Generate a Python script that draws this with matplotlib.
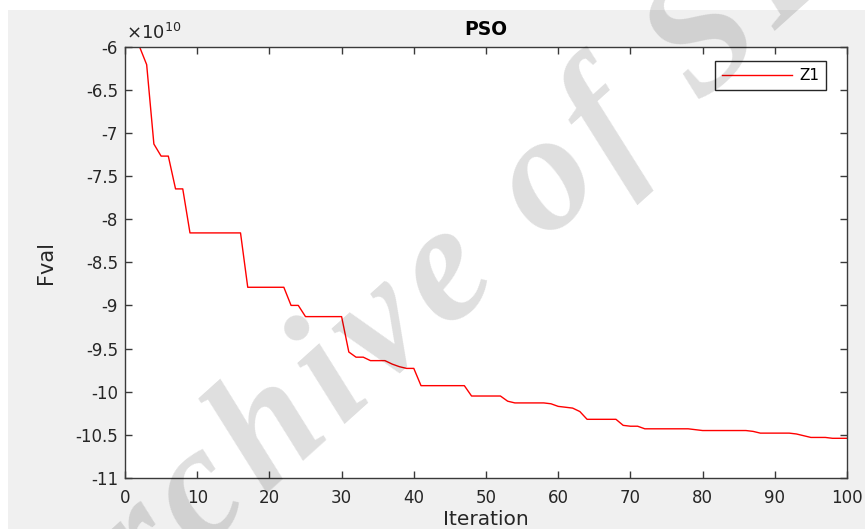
import numpy as np
import matplotlib.pyplot as plt
from matplotlib.patches import Rectangle
from matplotlib.ticker import FuncFormatter
from matplotlib.textpath import TextToPath
from matplotlib.font_manager import FontProperties

plt.rcParams['font.family'] = ['DejaVu Sans']
plt.rcParams['axes.unicode_minus'] = False

# best objective value per iteration, in units of 1e10
iteration = list(range(1, 101))
fval_e10 = [
    -6.00, -6.00, -6.21, -7.13, -7.27, -7.27, -7.65, -7.65, -8.16, -8.16,
    -8.16, -8.16, -8.16, -8.16, -8.16, -8.16, -8.79, -8.79, -8.79, -8.79,
    -8.79, -8.79, -9.00, -9.00, -9.13, -9.13, -9.13, -9.13, -9.13, -9.13,
    -9.54, -9.60, -9.60, -9.64, -9.64, -9.64, -9.68, -9.71, -9.73, -9.73,
    -9.93, -9.93, -9.93, -9.93, -9.93, -9.93, -9.93, -10.05, -10.05, -10.05,
    -10.05, -10.05, -10.11, -10.13, -10.13, -10.13, -10.13, -10.13, -10.14, -10.17,
    -10.18, -10.19, -10.23, -10.32, -10.32, -10.32, -10.32, -10.32, -10.39, -10.40,
    -10.40, -10.43, -10.43, -10.43, -10.43, -10.43, -10.43, -10.43, -10.44, -10.45,
    -10.45, -10.45, -10.45, -10.45, -10.45, -10.45, -10.46, -10.48, -10.48, -10.48,
    -10.48, -10.48, -10.49, -10.51, -10.53, -10.53, -10.53, -10.54, -10.54, -10.54,
]
x_ticks = list(range(0, 101, 10))
y_ticks = [-11 + 0.5 * i for i in range(11)]
watermark = 'Archive of SID'

W, H = 865, 529
fig = plt.figure(figsize=(W / 100, H / 100), dpi=100, facecolor='white')
fig.patches.append(Rectangle((8 / W, 0), 1, 1 - 10 / H, transform=fig.transFigure,
                             facecolor='#f0f0f0', edgecolor='none', zorder=-10))

ax = fig.add_axes([125 / W, 1 - 478 / H, 722 / W, 431.5 / H])
ax.plot(iteration, fval_e10, color='#ff0000', lw=1.0, label='Z1')

ax.set_xlim(0, 100)
ax.set_ylim(-11, -6)
ax.set_xticks(x_ticks)
ax.set_yticks(y_ticks)
ax.yaxis.set_major_formatter(FuncFormatter(lambda v, p: f'{v:g}'))

for s in ax.spines.values():
    s.set_color('#3a3a3a')
    s.set_linewidth(1.0)
ax.tick_params(direction='in', length=5, width=1.0, color='#3a3a3a', labelcolor='#262626',
               labelsize=12, top=True, right=True)
ax.tick_params(axis='x', pad=8)
ax.tick_params(axis='y', pad=5)

ax.set_xlabel('Iteration', fontsize=14.5, color='#262626', labelpad=2)
ax.set_ylabel('Fval', fontsize=15, color='#262626', labelpad=14)
ax.set_title('PSO', fontsize=13.5, fontweight='bold', pad=8)
ax.text(0.002, 1.008, r'$\times10^{10}$', transform=ax.transAxes, fontsize=13,
        color='#262626', ha='left', va='bottom')

leg = ax.legend(loc='upper right', handlelength=4.6, handletextpad=0.45, fancybox=False,
                framealpha=1, edgecolor='#262626', fontsize=11, borderpad=0.45,
                borderaxespad=0, bbox_to_anchor=(0.971, 0.966))
leg.get_frame().set_linewidth(1.0)

# watermark of the source archive, letters spaced out along a slanted baseline
size, track, angle = 120, 1.15, 42
fp = FontProperties(family='Liberation Serif', style='italic', weight='bold', size=size)
t2p = TextToPath()
px = lambda s: t2p.get_text_width_height_descent(s, fp, ismath=False)[0] * 100 / 72
mids = [(px(watermark[:i]) + px(watermark[:i + 1])) / 2 for i in range(len(watermark))]
d = np.array([np.cos(np.radians(angle)), np.sin(np.radians(angle))])
base_c = np.array([227, H - 526])   # baseline point under the "c"
for i, ch in enumerate(watermark):
    if ch == ' ':
        continue
    x, y = base_c + (mids[i] - mids[2]) * track * d
    fig.text(x / W, y / H, ch, fontproperties=fp, color='black', alpha=0.13,
             rotation=angle, rotation_mode='anchor', ha='center', va='baseline', zorder=20)

fig.savefig('out.png', dpi=100, facecolor=fig.get_facecolor())
